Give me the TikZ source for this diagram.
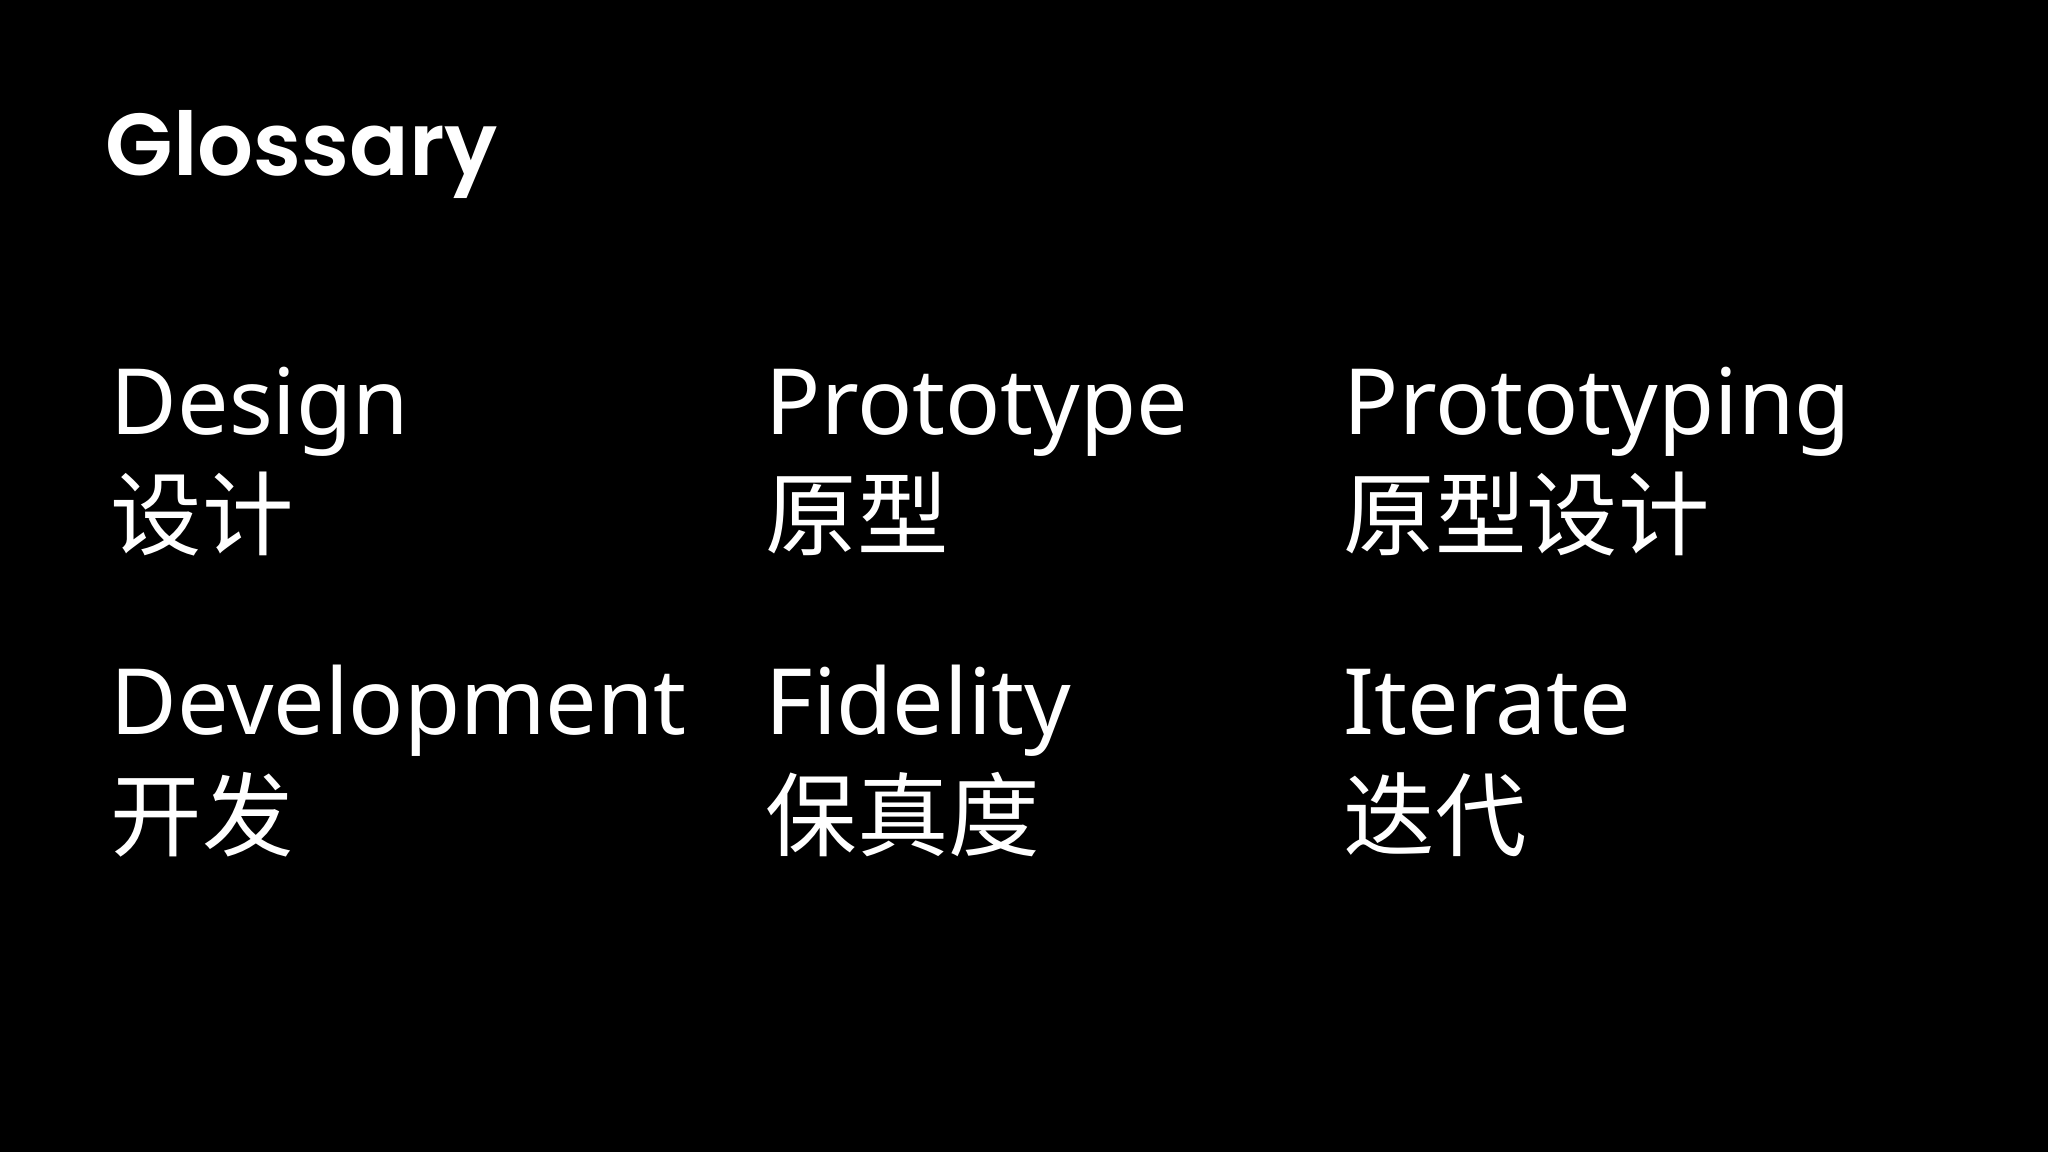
\documentclass[tikz,border=0pt]{standalone}
\usepackage{fontspec}
\setmainfont{Noto Sans}
\newfontfamily\titlefont{Poppins SemiBold}
\newfontfamily\cjk{Noto Sans CJK SC}
\begin{document}
\begin{tikzpicture}[x=0.01cm,y=-0.01cm,
  en/.style={anchor=base west,inner sep=0pt,text=white,font=\fontsize{26pt}{30pt}\selectfont},
  zh/.style={anchor=base west,inner sep=0pt,text=white,font=\cjk\fontsize{26pt}{30pt}\selectfont}]
\fill[black] (0,0) rectangle (2048,1152);
\useasboundingbox (0,0) rectangle (2048,1152);
\node[anchor=base west,inner sep=0pt,text=white,font=\titlefont\fontsize{25pt}{30pt}\selectfont] (title) at (105,176) {Glossary};
\node[en] (e1) at (110,435) {Design};
\node[zh] (z1) at (110,549) {设计};
\node[en] (e2) at (765,435) {Prototype};
\node[zh] (z2) at (765,549) {原型};
\node[en] (e3) at (1343,435) {Prototyping};
\node[zh] (z3) at (1343,549) {原型设计};
\node[en] (e4) at (110,735) {Development};
\node[zh] (z4) at (110,849) {开发};
\node[en] (e5) at (765,735) {Fidelity};
\node[zh] (z5) at (765,849) {保真度};
\node[en] (e6) at (1343,735) {Iterate};
\node[zh] (z6) at (1343,849) {迭代};
\end{tikzpicture}
\end{document}
